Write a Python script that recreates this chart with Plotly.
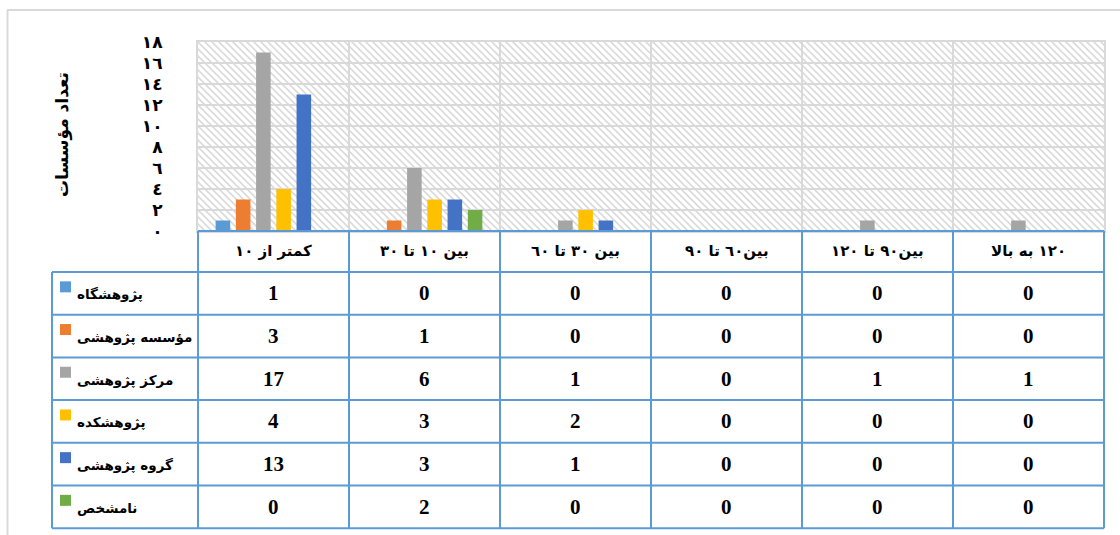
import base64
import plotly.graph_objects as go

# ---------------- data ----------------
categories = ["کمتر از ١٠", "بین ١٠ تا ٣٠", "بین ٣٠ تا ٦٠", "بین٦٠ تا ٩٠", "بین٩٠ تا ١٢٠", "١٢٠ به بالا"]
series_names = ["پژوهشگاه", "مؤسسه پژوهشی", "مرکز پژوهشی", "پژوهشکده", "گروه پژوهشی", "نامشخص"]
pazhuheshgah = [1, 0, 0, 0, 0, 0]
moassese_pazhuheshi = [3, 1, 0, 0, 0, 0]
markaz_pazhuheshi = [17, 6, 1, 0, 1, 1]
pazhuheshkade = [4, 3, 2, 0, 0, 0]
goruh_pazhuheshi = [13, 3, 1, 0, 0, 0]
namoshakhas = [0, 2, 0, 0, 0, 0]
series_values = [pazhuheshgah, moassese_pazhuheshi, markaz_pazhuheshi,
                 pazhuheshkade, goruh_pazhuheshi, namoshakhas]
y_tick_values = [0, 2, 4, 6, 8, 10, 12, 14, 16, 18]
y_tick_text = ["٠", "٢", "٤", "٦", "٨", "١٠", "١٢", "١٤", "١٦", "١٨"]
y_title = "تعداد مؤسسات"

colors = ["#5B9BD5", "#ED7D31", "#A5A5A5", "#FFC000", "#4472C4", "#70AD47"]

# ---------------- geometry (pixels) ----------------
FIG_W, FIG_H = 1120, 535
L, R, T, B = 198, 1104, 42, 231
W, H = R - L, B - T


def fx(px):
    return (px - L) / W


def fy(py):
    return (B - py) / H


fig = go.Figure()
for name, vals, col in zip(series_names, series_values, colors):
    fig.add_trace(go.Bar(x=categories, y=vals, name=name, marker=dict(color=col, line=dict(width=0)),
                         showlegend=False))

# hatched plot background
svg = (f'<svg xmlns="http://www.w3.org/2000/svg" width="{W}" height="{H}" viewBox="0 0 {W} {H}" '
       f'preserveAspectRatio="none"><defs><pattern id="h" width="7" height="7" patternUnits="userSpaceOnUse">'
       f'<path d="M0,0 L7,7 M-1,6 L1,8 M6,-1 L8,1" stroke="#dadada" stroke-width="1.6"/></pattern></defs>'
       f'<rect width="100%" height="100%" fill="white"/><rect width="100%" height="100%" fill="url(#h)"/></svg>')
src = "data:image/svg+xml;base64," + base64.b64encode(svg.encode("utf-8")).decode("ascii")

shapes = []
annotations = []
BLUE = "#5B9BD5"
GRAY = "#D9D9D9"

# outer chart frame (top and left edges)
shapes.append(dict(type="line", xref="paper", yref="paper", x0=fx(7), x1=fx(1125), y0=fy(10), y1=fy(10),
                   line=dict(color=GRAY, width=2)))
shapes.append(dict(type="line", xref="paper", yref="paper", x0=fx(7.5), x1=fx(7.5), y0=fy(10), y1=fy(540),
                   line=dict(color=GRAY, width=2)))

# data table
header_top, header_bot = 231, 272
row_h = 42.7
row_edges = [header_bot + i * row_h for i in range(len(series_names) + 1)]
left_x = 52
col_edges = [L + i * W / len(categories) for i in range(len(categories) + 1)]

# horizontal lines
shapes.append(dict(type="line", xref="paper", yref="paper", x0=fx(L), x1=fx(R), y0=fy(header_top),
                   y1=fy(header_top), line=dict(color=BLUE, width=2)))
for ye in row_edges:
    shapes.append(dict(type="line", xref="paper", yref="paper", x0=fx(left_x), x1=fx(R), y0=fy(ye), y1=fy(ye),
                       line=dict(color=BLUE, width=2)))
# vertical lines
shapes.append(dict(type="line", xref="paper", yref="paper", x0=fx(left_x), x1=fx(left_x), y0=fy(header_bot),
                   y1=fy(row_edges[-1]), line=dict(color=BLUE, width=2)))
for xe in col_edges:
    shapes.append(dict(type="line", xref="paper", yref="paper", x0=fx(xe), x1=fx(xe), y0=fy(header_top),
                       y1=fy(row_edges[-1]), line=dict(color=BLUE, width=2)))

FA_FONT = "DejaVu Sans, Noto Sans, sans-serif"
NUM_FONT = "Liberation Serif, Times New Roman, serif"

# header labels
for i, cat in enumerate(categories):
    cx = (col_edges[i] + col_edges[i + 1]) / 2
    annotations.append(dict(x=fx(cx), y=fy((header_top + header_bot) / 2 - 1), xref="paper", yref="paper",
                            text=cat, showarrow=False, xanchor="center", yanchor="middle",
                            font=dict(family=FA_FONT, size=15, color="black", weight="bold")))

# rows
for r, (name, vals, col) in enumerate(zip(series_names, series_values, colors)):
    cy = (row_edges[r] + row_edges[r + 1]) / 2
    shapes.append(dict(type="rect", xref="paper", yref="paper", x0=fx(60), x1=fx(71), y0=fy(cy - 12),
                       y1=fy(cy - 1), fillcolor=col, line=dict(width=0)))
    annotations.append(dict(x=fx(75), y=fy(cy + 1), xref="paper", yref="paper", text=name, showarrow=False,
                            xanchor="left", yanchor="middle",
                            font=dict(family=FA_FONT, size=13.5, color="black", weight="bold")))
    for i, v in enumerate(vals):
        cx = (col_edges[i] + col_edges[i + 1]) / 2
        annotations.append(dict(x=fx(cx), y=fy(cy), xref="paper", yref="paper", text=str(v), showarrow=False,
                                xanchor="center", yanchor="middle",
                                font=dict(family=NUM_FONT, size=21, color="black", weight="bold")))

# y axis title
annotations.append(dict(x=fx(62), y=fy(135), xref="paper", yref="paper", text=y_title, showarrow=False,
                        textangle=-90, xanchor="center", yanchor="middle",
                        font=dict(family=FA_FONT, size=17, color="black", weight="bold")))

fig.update_layout(
    width=FIG_W, height=FIG_H,
    margin=dict(l=L, r=FIG_W - R, t=T, b=FIG_H - B, pad=0),
    paper_bgcolor="white", plot_bgcolor="rgba(0,0,0,0)",
    barmode="group", bargap=0.196, bargroupgap=0.28,
    showlegend=False,
    images=[dict(source=src, xref="paper", yref="paper", x=0, y=1, sizex=1, sizey=1,
                 xanchor="left", yanchor="top", sizing="stretch", layer="below")],
    shapes=shapes, annotations=annotations,
    xaxis=dict(type="category", showgrid=True, gridcolor=GRAY, gridwidth=2, tickson="boundaries",
               showticklabels=False, ticks="", showline=True, linecolor=GRAY, linewidth=2, mirror=True,
               zeroline=False),
    yaxis=dict(range=[0, 18], tickmode="array", tickvals=y_tick_values, ticktext=y_tick_text,
               showgrid=True, gridcolor=GRAY, gridwidth=2, showline=True, linecolor=GRAY, linewidth=2,
               mirror=True, zeroline=False, ticks="", ticklabelstandoff=30,
               tickfont=dict(family=FA_FONT, size=17, color="black", weight="bold")),
)

fig.write_html("out.html", config={"displayModeBar": False},
               post_script="document.body.style.margin='0';document.body.style.overflow='hidden';")
